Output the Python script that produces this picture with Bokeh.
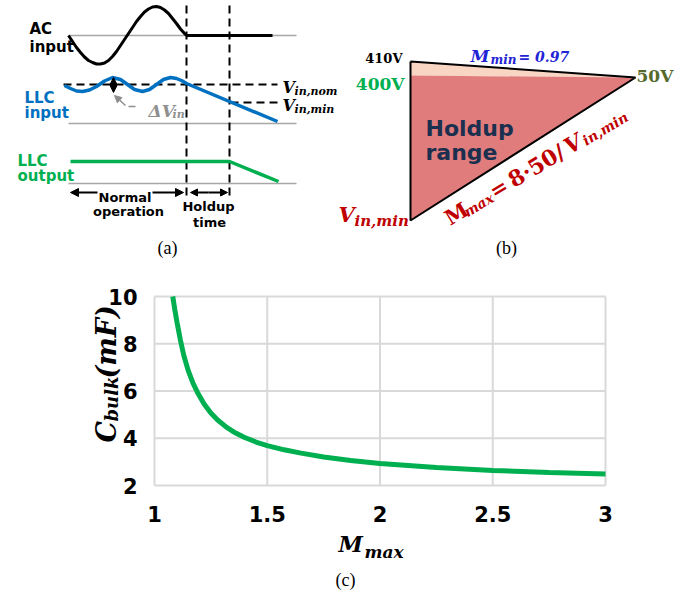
import math
from bokeh.plotting import figure
from bokeh.models import Range1d, Arrow, NormalHead, FixedTicker, LinearAxis
from bokeh.embed import file_html
from bokeh.resources import INLINE
from bokeh.core.properties import value

# ---------------- panel (c) data ----------------
m_max = [1.081, 1.09, 1.10, 1.115, 1.13, 1.15, 1.17, 1.19, 1.22, 1.25, 1.28, 1.32,
         1.36, 1.40, 1.45, 1.50, 1.575, 1.65, 1.75, 1.87, 2.0, 2.25, 2.5, 2.75, 3.0]
c_bulk = [10.0, 9.45, 8.9, 8.15, 7.5, 6.85, 6.35, 5.95, 5.45, 5.07, 4.77, 4.46,
          4.22, 4.03, 3.84, 3.69, 3.51, 3.37, 3.21, 3.06, 2.93, 2.76, 2.64, 2.55, 2.49]
x_ticks = [1, 1.5, 2, 2.5, 3]
x_tick_labels = ["1", "1.5", "2", "2.5", "3"]
y_ticks = [2, 4, 6, 8, 10]
y_tick_labels = ["2", "4", "6", "8", "10"]

# ---------------- panel (a) schematic traces (pixel space) ----------------
ac_x = [68, 72, 76, 80, 84, 88, 92, 96, 100, 104, 108, 112, 116, 120, 124, 128, 132, 136,
        140, 144, 148, 152, 156, 160, 164, 168, 172, 176, 180, 184, 186]
ac_y = [35, 41, 47, 52, 56.5, 60, 62, 63.5, 63.5, 62.5, 60, 56, 51, 45, 39, 33, 27, 21,
        16, 11.5, 8.5, 6.5, 6, 7, 9.5, 13, 18, 23, 28.5, 33, 35]
ac_hold_x = [186, 272]
ac_hold_y = [35, 35]
llc_in_x = [64, 70, 76, 82, 89, 96, 104, 112, 120, 127, 134, 142, 149, 156, 163, 170, 176, 181, 186, 277]
llc_in_y = [85, 88, 90.5, 91, 89.5, 86, 80.5, 77, 79, 84, 89, 91, 89, 84, 79, 77, 78, 80, 83, 121]
llc_out_x = [70, 229, 278]
llc_out_y = [161, 161, 181]

# ---------------- panel (b) schematic (pixel space) ----------------
tri_x = [410, 635, 410]
tri_top_y = [61, 77, 75]
tri_main_y = [75, 77, 220]

BLUE = "#0070c0"
GREEN = "#00b050"
DRED = "#c00000"

top = figure(width=689, height=262, x_range=Range1d(0, 689), y_range=Range1d(262, 0),
             x_axis_type=None, y_axis_type=None, toolbar_location=None,
             output_backend="svg", min_border=0, min_border_left=0, min_border_right=0,
             min_border_top=0, min_border_bottom=0, outline_line_color=None)
top.grid.visible = False


def txt(p, x, y, s, size, color, font="DejaVu Sans", style="bold", align="left",
        baseline="alphabetic", angle=0.0):
    p.text(x=[x], y=[y], text=[s], text_font=value(font), text_font_size=f"{size}px",
           text_font_style=style, text_color=color, text_align=align,
           text_baseline=baseline, angle=angle)


# baselines
for yb in (35, 123, 183):
    top.line([68, 296], [yb, yb], line_color="#a6a6a6", line_width=1.5)

# AC input
top.line(ac_x, ac_y, line_color="black", line_width=3)
top.line(ac_hold_x, ac_hold_y, line_color="black", line_width=3)

# dashed references
top.line([63, 277], [84, 84], line_color="black", line_width=2, line_dash="8 5")
top.line([230, 277], [102, 102], line_color="black", line_width=2, line_dash="8 5")
for xv in (186, 229):
    top.line([xv, xv], [5, 195], line_color="black", line_width=2, line_dash="8 5")

# LLC input / output
top.line(llc_in_x, llc_in_y, line_color=BLUE, line_width=3.5)
top.line(llc_out_x, llc_out_y, line_color=GREEN, line_width=3.5)


def arr(p, x0, y0, x1, y1, color="black", size=7, width=2):
    p.add_layout(Arrow(x_start=x0, y_start=y0, x_end=x1, y_end=y1,
                       line_color=color, line_width=width,
                       end=NormalHead(size=size, fill_color=color, line_color=color)))


arr(top, 113, 84, 113, 77)
arr(top, 113, 84, 113, 92)
arr(top, 125, 105, 114, 95, color="#8f8f8f", size=7, width=1.5)
top.line([128, 135], [106, 106], line_color="#8f8f8f", line_width=1.5)
arr(top, 97, 192, 70, 192, size=8)
arr(top, 152, 192, 183, 192, size=8)
arr(top, 208, 192, 190, 192, size=7)
arr(top, 208, 192, 227, 192, size=7)

# panel (a) texts
txt(top, 29, 28, "AC", 15, "black")
txt(top, 29, 46, "input", 15, "black")
txt(top, 24, 97, "LLC", 15, BLUE)
txt(top, 24, 112, "input", 15, BLUE)
txt(top, 17, 160, "LLC", 15, GREEN)
txt(top, 17, 175, "output", 15, GREEN)
txt(top, 124.5, 197, "Normal", 13, "black", align="center")
txt(top, 128, 211, "operation", 13, "black", align="center")
txt(top, 208, 206, "Holdup", 13, "black", align="center")
txt(top, 209, 222, "time", 13, "black", align="center")
txt(top, 148, 110, "\u0394V", 17, "#8f8f8f", font="DejaVu Serif", style="bold italic")
txt(top, 172, 114, "in", 11, "#8f8f8f", font="DejaVu Serif", style="bold italic")
txt(top, 282, 87, "V", 16, "black", font="DejaVu Serif", style="bold italic")
txt(top, 294, 91, "in,nom", 11, "black", font="DejaVu Serif", style="bold italic")
txt(top, 282, 105, "V", 16, "black", font="DejaVu Serif", style="bold italic")
txt(top, 294, 109, "in,min", 11, "black", font="DejaVu Serif", style="bold italic")
txt(top, 167, 247, "(a)", 18, "black", font="Liberation Serif", style="normal", align="center")

# panel (b)
top.patch(tri_x, tri_top_y, fill_color="#f9d5c4", line_color=None)
top.patch(tri_x, tri_main_y, fill_color="#e07c7c", line_color=None)
top.line([410, 635, 410, 410], [61, 77, 220, 61], line_color="black", line_width=2)

txt(top, 402, 58, "410V", 13, "black", font="DejaVu Serif", style="bold", align="right")
txt(top, 404, 83, "400V", 17, GREEN, font="DejaVu Serif", style="bold", align="right")
txt(top, 636, 75, "50V", 17, "#566a2c", font="DejaVu Serif", style="bold")
txt(top, 470, 55, "M", 17, "#2323d6", font="DejaVu Serif", style="bold italic")
txt(top, 490, 59, "min", 12, "#2323d6", font="DejaVu Serif", style="bold italic")
txt(top, 518, 56, "= 0.97", 14, "#2323d6", font="DejaVu Serif", style="bold italic")
txt(top, 425, 128, "Holdup", 22, "#1b2f4f")
txt(top, 425, 152, "range", 22, "#1b2f4f")
txt(top, 338, 214, "V", 21, DRED, font="DejaVu Serif", style="bold italic")
txt(top, 354, 220, "in,min", 15, DRED, font="DejaVu Serif", style="bold italic")

# rotated formula along the hypotenuse
theta = math.radians(31)
ux, uy = math.cos(theta), -math.sin(theta)
dx, dy = math.sin(theta), math.cos(theta)
ox, oy = 446, 219
segments = [("M", 0, 0, 21, "bold"), ("max", 19, 4, 14, "bold italic"),
            ("=", 52, 0, 21, "bold"), ("8\u00b750/", 74, 0, 22, "bold"),
            ("V", 139, 0, 22, "bold italic"), ("in,min", 157.5, 4, 14, "bold italic")]
for s, off, sub, size, style in segments:
    txt(top, ox + ux * off + dx * sub, oy + uy * off + dy * sub, s, size, DRED,
        font="DejaVu Serif", style=style, angle=theta)

txt(top, 506, 247, "(b)", 18, "black", font="Liberation Serif", style="normal", align="center")


# ---------------- panel (c) ----------------
# page pixel -> data mapping of the chart box (x: 1..3 at 154..605, y: 10..2 at 296..485)
def cx(px):
    return 1 + (px - 154) / 225.5


def cy(py):
    return 2 + (485 - py) / 23.625


bot = figure(width=689, height=331, x_range=Range1d(cx(0), cx(689)),
             y_range=Range1d(cy(593), cy(262)),
             x_axis_type=None, y_axis_type=None, toolbar_location=None, output_backend="svg",
             min_border=0, min_border_left=0, min_border_right=0,
             min_border_top=0, min_border_bottom=0, outline_line_color=None)
bot.grid.visible = False

GRID = "#d9d9d9"
bot.segment(x0=x_ticks, y0=[y_ticks[0]] * len(x_ticks), x1=x_ticks, y1=[y_ticks[-1]] * len(x_ticks),
            line_color=GRID, line_width=2)
bot.segment(x0=[x_ticks[0]] * len(y_ticks), y0=y_ticks, x1=[x_ticks[-1]] * len(y_ticks), y1=y_ticks,
            line_color=GRID, line_width=2)
bot.line(m_max, c_bulk, line_color=GREEN, line_width=5)

xax = LinearAxis(fixed_location=y_ticks[0], ticker=FixedTicker(ticks=x_ticks),
                 major_label_overrides={t: l for t, l in zip(x_ticks, x_tick_labels)})
yax = LinearAxis(fixed_location=x_ticks[0], ticker=FixedTicker(ticks=y_ticks),
                 major_label_overrides={t: l for t, l in zip(y_ticks, y_tick_labels)})
for ax in (xax, yax):
    ax.axis_line_color = None
    ax.major_tick_line_color = None
    ax.minor_tick_line_color = None
    ax.major_tick_out = 0
    ax.major_tick_in = 0
    ax.major_label_text_font = "DejaVu Sans"
    ax.major_label_text_font_style = "bold"
    ax.major_label_text_font_size = "21px"
    ax.major_label_text_color = "black"
xax.major_label_standoff = 20
yax.major_label_standoff = 17
bot.add_layout(xax, "below")
bot.add_layout(yax, "left")


def lab(px, py, s, size, font="DejaVu Serif", style="bold italic", angle=0.0, align="left"):
    bot.text(x=[cx(px)], y=[cy(py)], text=[s], text_font=value(font),
             text_font_size=f"{size}px", text_font_style=style, text_color="black",
             angle=angle, text_align=align, text_baseline="alphabetic")


lab(338, 543, "M", 22)
lab(364, 551, "max", 17)
lab(345, 579, "(c)", 18, font="Liberation Serif", style="normal", align="center")
lab(106, 442, "C", 27, angle=math.pi / 2)
lab(111, 421, "bulk", 18, angle=math.pi / 2)
lab(106, 378, "(mF)", 27, angle=math.pi / 2)

open("out.html", "w").write(file_html([top, bot], INLINE))
